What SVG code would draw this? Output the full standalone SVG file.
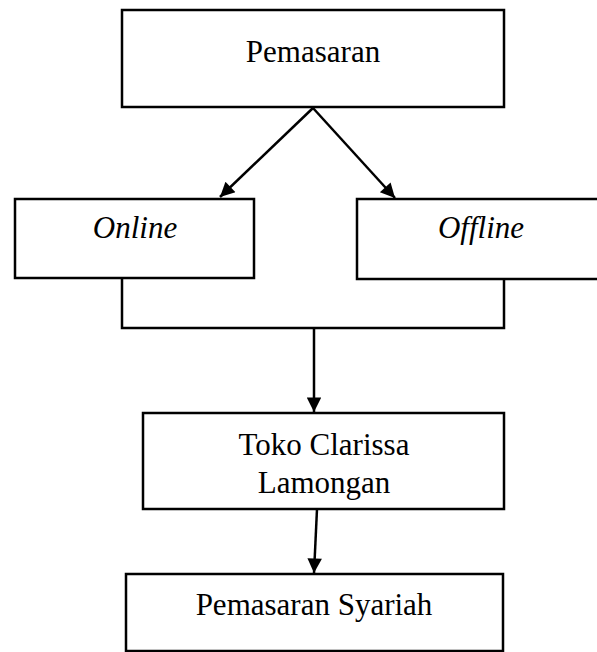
<svg xmlns="http://www.w3.org/2000/svg" width="597" height="652" viewBox="0 0 597 652">
<style>
.box{fill:#fff;stroke:#000;stroke-width:2.5}
.t{font-family:"Liberation Serif","Times New Roman",serif;font-size:31px;fill:#000;text-anchor:middle}
.i{font-style:italic}
.c{fill:none;stroke:#000;stroke-width:2.5}
</style>
<defs>
<marker id="ah" viewBox="0 0 10 10" refX="10" refY="5" markerWidth="6.6" markerHeight="5.8" markerUnits="strokeWidth" orient="auto">
<path d="M0,0 L10,5 L0,10 z" fill="#000"/>
</marker>
</defs>
<rect width="597" height="652" fill="#fff"/>
<g id="connectors">
<line class="c" x1="313" y1="108" x2="220" y2="197" marker-end="url(#ah)"/>
<line class="c" x1="313" y1="108" x2="395" y2="198" marker-end="url(#ah)"/>
<polyline class="c" points="122,278 122,328 504,328 504,279"/>
<line class="c" x1="314" y1="328" x2="314" y2="412" marker-end="url(#ah)"/>
<line class="c" x1="317" y1="509" x2="314" y2="573" marker-end="url(#ah)"/>
</g>
<g id="pemasaran">
<rect class="box" x="122" y="10" width="382" height="97"/>
<text class="t" x="313" y="62">Pemasaran</text>
</g>
<g id="online">
<rect class="box" x="15" y="199" width="239" height="79"/>
<text class="t i" x="135" y="238">Online</text>
</g>
<g id="offline">
<rect class="box" x="357" y="199" width="260" height="80"/>
<text class="t i" x="481" y="238">Offline</text>
</g>
<g id="toko">
<rect class="box" x="143" y="413" width="361" height="96"/>
<text class="t" x="324" y="455">Toko Clarissa</text>
<text class="t" x="324" y="493">Lamongan</text>
</g>
<g id="syariah">
<rect class="box" x="126" y="574" width="377" height="77"/>
<text class="t" x="314" y="615">Pemasaran Syariah</text>
</g>
</svg>
